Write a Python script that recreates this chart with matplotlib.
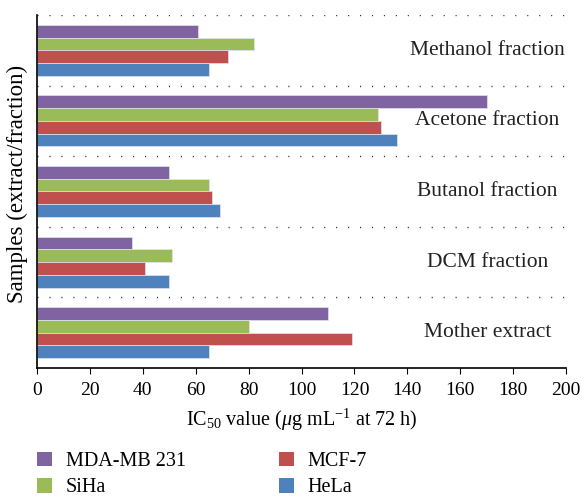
import matplotlib.pyplot as plt
import numpy as np
from matplotlib.patches import Patch

plt.rcParams['font.family'] = ['Liberation Serif', 'DejaVu Serif']
plt.rcParams['mathtext.fontset'] = 'custom'
plt.rcParams['mathtext.rm'] = 'Liberation Serif'
plt.rcParams['mathtext.it'] = 'Liberation Serif:italic'

samples = ["Mother extract", "DCM fraction", "Butanol fraction",
           "Acetone fraction", "Methanol fraction"]
cell_lines = ["MDA-MB 231", "SiHa", "MCF-7", "HeLa"]
mda_mb_231 = [110, 36, 50, 170, 61]
siha = [80, 51, 65, 129, 82]
mcf_7 = [119, 41, 66, 130, 72]
hela = [65, 50, 69, 136, 65]
x_ticks = [0, 20, 40, 60, 80, 100, 120, 140, 160, 180, 200]

colors = ["#8064A2", "#9BBB59", "#C0504D", "#4F81BD"]
series = [mda_mb_231, siha, mcf_7, hela]

fig = plt.figure(figsize=(5.84, 4.99), dpi=100)
ax = fig.add_axes([0.0634, 0.2625, 0.906, 0.7075])

y = np.arange(len(samples))
h = 0.18
offsets = [1.5 * h, 0.5 * h, -0.5 * h, -1.5 * h]
for vals, col, off in zip(series, colors, offsets):
    ax.barh(y + off, vals, height=h, color=col, edgecolor="#dfe6f0", linewidth=0.5)

# dotted separators between sample groups
for b in np.arange(len(samples)) + 0.5:
    ax.axhline(b, color="#333333", linewidth=1.0, linestyle=(8.6, (0.8, 7.8)), zorder=0)

for yi, name in zip(y, samples):
    ax.text(170.3, yi, name, ha="center", va="center", fontsize=15.5, color="#222222")

ax.set_xlim(0, 200)
ax.set_ylim(-0.5, 4.5)
ax.set_xticks(x_ticks)
ax.set_yticks([])
ax.tick_params(axis="x", direction="out", length=4, labelsize=14, pad=6)
for s in ["top", "right"]:
    ax.spines[s].set_visible(False)
ax.spines["left"].set_linewidth(1.2)
ax.spines["bottom"].set_linewidth(1.2)

ax.set_xlabel(r"IC$_{50}$ value ($\mathit{\mu}$g mL$^{-1}$ at 72 h)", fontsize=14.5, labelpad=6)
ax.set_ylabel("Samples (extract/fraction)", fontsize=16.5)
ax.yaxis.set_label_coords(-0.017, 0.52)

handles = [Patch(facecolor=c, edgecolor="none") for c in colors]
fig.legend(handles, cell_lines, loc="upper left", bbox_to_anchor=(0.063, 0.095),
           ncol=2, frameon=False, fontsize=14.5, handlelength=0.75, handleheight=0.75,
           handletextpad=0.7, columnspacing=4.6, labelspacing=0.35,
           borderaxespad=0, borderpad=0)

fig.savefig("out.png", dpi=100)
